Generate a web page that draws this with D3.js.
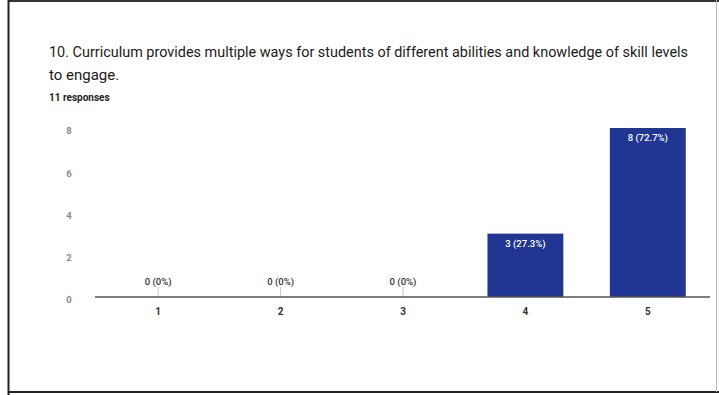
<!DOCTYPE html>
<html>
<head>
<meta charset="utf-8">
<script src="https://cdn.jsdelivr.net/npm/d3@7"></script>
<style>
  html, body { margin: 0; padding: 0; background: #fff; }
  svg { display: block; font-family: Roboto, "Liberation Sans", Arial, sans-serif; }
</style>
</head>
<body>
<svg id="chart" width="719" height="395"></svg>
<script>
// Survey question and answer counts
const titleLines = [
  "10. Curriculum provides multiple ways for students of different abilities and knowledge of skill levels",
  "to engage."
];
const responseNote = "11 responses";
const categories = ["1", "2", "3", "4", "5"];
const counts = [0, 0, 0, 3, 8];
const percents = ["0%", "0%", "0%", "27.3%", "72.7%"];
const yTicks = [0, 2, 4, 6, 8];

const svg = d3.select("#chart");
const W = 719, H = 395;

// card frame
svg.append("rect").attr("x", 0).attr("y", 0).attr("width", W).attr("height", H).attr("fill", "#fff");
svg.append("line").attr("x1", 8).attr("x2", W).attr("y1", 1).attr("y2", 1)
  .attr("stroke", "#333").attr("stroke-width", 2);
svg.append("line").attr("x1", 8.5).attr("x2", 8.5).attr("y1", 0).attr("y2", H)
  .attr("stroke", "#222").attr("stroke-width", 2);
svg.append("line").attr("x1", 8).attr("x2", W).attr("y1", 392).attr("y2", 392)
  .attr("stroke", "#222").attr("stroke-width", 2);
svg.append("line").attr("x1", 716.5).attr("x2", 716.5).attr("y1", 0).attr("y2", 392)
  .attr("stroke", "#bbb").attr("stroke-width", 1);

// heading
svg.append("text").attr("x", 49).attr("y", 57)
  .attr("font-size", 15).attr("fill", "#1a1a1a")
  .attr("textLength", 639).attr("lengthAdjust", "spacingAndGlyphs")
  .text(titleLines[0]);
svg.append("text").attr("x", 49).attr("y", 80)
  .attr("font-size", 15).attr("fill", "#1a1a1a")
  .text(titleLines[1]);
svg.append("text").attr("x", 49).attr("y", 101)
  .attr("font-size", 10).attr("font-weight", 700).attr("fill", "#222")
  .text(responseNote);

// scales
const x = d3.scaleBand().domain(categories).range([97, 709])
  .paddingInner(0.38).paddingOuter(0.19);
const y = d3.scaleLinear().domain([0, 8]).range([297, 128]);

// y tick labels
svg.append("g").selectAll("text").data(yTicks).join("text")
  .attr("x", 69).attr("y", d => y(d) + 3)
  .attr("dy", "0.35em")
  .attr("text-anchor", "middle")
  .attr("font-size", 9.5).attr("font-weight", 700).attr("fill", "#8a8a8a")
  .text(d => d);

// bars
const data = categories.map((c, i) => ({ c, v: counts[i], p: percents[i] }));
svg.append("g").selectAll("rect").data(data.filter(d => d.v > 0)).join("rect")
  .attr("x", d => x(d.c)).attr("width", x.bandwidth())
  .attr("y", d => y(d.v)).attr("height", d => y(0) - y(d.v))
  .attr("fill", "#213592");

// small markers under zero-count labels
svg.append("g").selectAll("line").data(data.filter(d => d.v === 0)).join("line")
  .attr("x1", d => x(d.c) + x.bandwidth() / 2).attr("x2", d => x(d.c) + x.bandwidth() / 2)
  .attr("y1", y(0) - 10).attr("y2", y(0))
  .attr("stroke", "#c8c8c8").attr("stroke-width", 1);

// baseline
svg.append("line").attr("x1", 95).attr("x2", 710).attr("y1", y(0)).attr("y2", y(0))
  .attr("stroke", "#555").attr("stroke-width", 1.5);

// value labels
svg.append("g").selectAll("text").data(data).join("text")
  .attr("x", d => x(d.c) + x.bandwidth() / 2)
  .attr("y", d => d.v > 0 ? y(d.v) + 13 : y(0) - 12)
  .attr("text-anchor", "middle")
  .attr("font-size", 9.5).attr("font-weight", 500)
  .attr("fill", d => d.v > 0 ? "#fff" : "#333")
  .text(d => `${d.v} (${d.p})`);

// category labels
svg.append("g").selectAll("text").data(categories).join("text")
  .attr("x", d => x(d) + x.bandwidth() / 2).attr("y", 315)
  .attr("text-anchor", "middle")
  .attr("font-size", 10).attr("font-weight", 700).attr("fill", "#333")
  .text(d => d);
</script>
</body>
</html>
